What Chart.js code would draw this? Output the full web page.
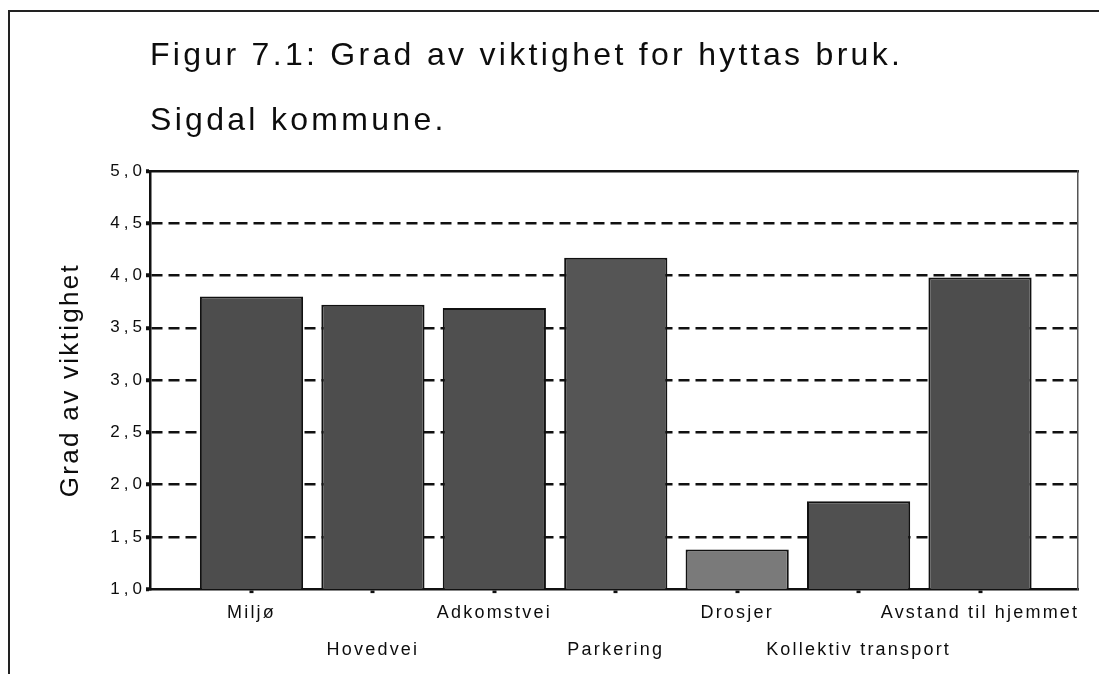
<!DOCTYPE html>
<html>
<head>
<meta charset="utf-8">
<script src="https://cdn.jsdelivr.net/npm/chart.js@4/dist/chart.umd.min.js"></script>
<style>
  html, body { margin: 0; padding: 0; background: #ffffff; }
  #wrap { width: 1099px; height: 674px; position: relative; }
  canvas { display: block; }
</style>
</head>
<body>
<div id="wrap"><canvas id="chart" width="1099" height="674"></canvas></div>
<script>
// ---- data ----
const categories = ['Miljø', 'Hovedvei', 'Adkomstvei', 'Parkering', 'Drosjer', 'Kollektiv transport', 'Avstand til hjemmet'];
const values = [3.80, 3.72, 3.69, 4.17, 1.38, 1.84, 3.98];
const yTickValues = [1.0, 1.5, 2.0, 2.5, 3.0, 3.5, 4.0, 4.5, 5.0];
const yTickLabels = ['1,0', '1,5', '2,0', '2,5', '3,0', '3,5', '4,0', '4,5', '5,0'];
const titleText = 'Figur 7.1: Grad av viktighet for hyttas bruk.';
const subtitleText = 'Sigdal kommune.';
const yAxisTitle = 'Grad av viktighet';

// ---- styles ----
const barColors = ['#4d4d4d', '#4d4d4d', '#4f4f4f', '#555555', '#7a7a7a', '#505050', '#4d4d4d'];
const FONT = "'Liberation Sans', Arial, Helvetica, sans-serif";
const INK = '#0d0d0d';
// letter spacing by font size (px) — the scanned original uses widely spaced type
const SPACING = { 32: 3.3, 26: 2.3, 18: 2.2, 17: 4 };

const canvas = document.getElementById('chart');
const c2d = canvas.getContext('2d');
function applySpacing(ctx) {
  const m = /(\d+(?:\.\d+)?)px/.exec(ctx.font);
  const s = m ? SPACING[Math.round(parseFloat(m[1]))] : 0;
  ctx.letterSpacing = (s || 0) + 'px';
}
const origFill = c2d.fillText;
const origMeasure = c2d.measureText;
c2d.fillText = function () { applySpacing(this); return origFill.apply(this, arguments); };
c2d.measureText = function () { applySpacing(this); return origMeasure.apply(this, arguments); };

const framePlugin = {
  id: 'frame',
  beforeDraw(c) {
    const ctx = c.ctx;
    ctx.save();
    ctx.fillStyle = '#ffffff';
    ctx.fillRect(0, 0, c.width, c.height);
    ctx.strokeStyle = '#222';
    ctx.lineWidth = 2;
    ctx.beginPath();
    ctx.moveTo(9, c.height);
    ctx.lineTo(9, 11);
    ctx.lineTo(c.width, 11);
    ctx.stroke();
    ctx.restore();
  }
};

new Chart(canvas, {
  type: 'bar',
  data: {
    datasets: [{
      data: values.map((v, i) => ({ x: i, y: v })),
      backgroundColor: barColors,
      borderColor: '#111',
      borderWidth: 2,
      borderSkipped: 'start',
      categoryPercentage: 1.0,
      barPercentage: 0.85
    }]
  },
  options: {
    responsive: false,
    animation: false,
    devicePixelRatio: 1,
    layout: { padding: { left: 0, right: 21, top: 0, bottom: 4 } },
    plugins: {
      legend: { display: false },
      tooltip: { enabled: false },
      title: {
        display: true,
        text: titleText,
        align: 'start',
        fullSize: false,
        color: INK,
        font: { family: FONT, size: 32, weight: 'normal', lineHeight: 1.2 },
        padding: { top: 37, bottom: 0 }
      },
      subtitle: {
        display: true,
        text: subtitleText,
        align: 'start',
        fullSize: false,
        color: INK,
        font: { family: FONT, size: 32, weight: 'normal', lineHeight: 1.2 },
        padding: { top: 26.4, bottom: 30.8 }
      }
    },
    scales: {
      x: {
        type: 'linear',
        position: 'bottom',
        min: -0.836,
        max: 6.807,
        offset: false,
        afterBuildTicks: (s) => { s.ticks = categories.map((_, i) => ({ value: i })); },
        afterFit: (s) => { s.paddingLeft = 0; s.paddingRight = 0; },
        ticks: {
          autoSkip: false,
          maxRotation: 0,
          minRotation: 0,
          padding: 1,
          color: INK,
          font: { family: FONT, size: 18, lineHeight: 2.08 },
          callback: (v) => (v % 2 === 0 ? categories[v] : ['', categories[v]])
        },
        grid: {
          display: true,
          offset: false,
          drawOnChartArea: false,
          drawTicks: true,
          tickLength: 4,
          tickWidth: 4,
          tickColor: '#111',
          color: '#111'
        },
        border: { display: true, color: '#111', width: 2.5 }
      },
      xTop: {
        type: 'linear',
        axis: 'x',
        position: 'top',
        ticks: { display: false },
        grid: { display: false, drawTicks: false },
        border: { display: true, color: '#111', width: 2.5 }
      },
      y: {
        type: 'linear',
        position: 'left',
        min: 1,
        max: 5,
        afterBuildTicks: (s) => { s.ticks = yTickValues.map(v => ({ value: v })); },
        afterFit: (s) => { s.width = 150; },
        ticks: {
          padding: 0,
          color: INK,
          font: { family: FONT, size: 17 },
          callback: (v) => yTickLabels[yTickValues.indexOf(v)]
        },
        grid: {
          color: (ctx) => (ctx.tick && (ctx.tick.value === 1 || ctx.tick.value === 5)) ? 'rgba(0,0,0,0)' : '#111',
          lineWidth: 2.5,
          drawTicks: true,
          tickLength: 4,
          tickWidth: 4,
          tickColor: '#111'
        },
        border: { display: true, color: '#111', width: 2.5, dash: [11, 6] },
        title: {
          display: true,
          text: yAxisTitle,
          color: INK,
          font: { family: FONT, size: 26, lineHeight: 1.2 },
          padding: { top: 55, bottom: 0 }
        }
      },
      yRight: {
        type: 'linear',
        axis: 'y',
        position: 'right',
        ticks: { display: false },
        grid: { display: false, drawTicks: false },
        border: { display: true, color: '#555', width: 1.5 }
      }
    }
  },
  plugins: [framePlugin]
});
</script>
</body>
</html>
